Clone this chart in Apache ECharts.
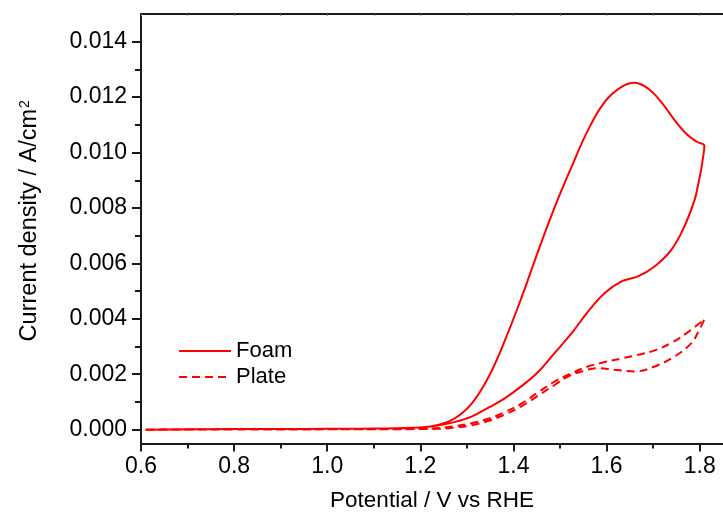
<!DOCTYPE html>
<html>
<head>
<meta charset="utf-8">
<script src="https://cdn.jsdelivr.net/npm/echarts@6/dist/echarts.min.js"></script>
<style>
  html, body { margin: 0; padding: 0; background: #fff; }
  #chart { width: 723px; height: 518px; }
</style>
</head>
<body>
<div id="chart"></div>
<script>
// Foam CV loop (V vs RHE, A/cm2)
const foamPotential = [
  0.61, 0.7, 0.8, 0.9, 1.0, 1.1, 1.2, 1.24, 1.275, 1.311, 1.347, 1.382, 1.418, 1.454, 1.489,
  1.525, 1.56, 1.596, 1.632, 1.66, 1.689, 1.717, 1.746, 1.774, 1.795, 1.81,
  1.806, 1.803, 1.796, 1.789, 1.767, 1.739, 1.703, 1.667, 1.632, 1.596, 1.56, 1.525, 1.489,
  1.454, 1.418, 1.382, 1.347, 1.311, 1.275, 1.24, 1.2, 1.1, 1.0, 0.8, 0.61
];
const foamCurrent = [
  0.0, 0.00001, 0.00002, 0.00002, 0.00003, 0.00004, 0.00008, 0.00018, 0.00042, 0.00096,
  0.00192, 0.00324, 0.0048, 0.00649, 0.00805, 0.00949, 0.01081, 0.01183, 0.01237, 0.01252,
  0.01231, 0.01183, 0.01117, 0.01063, 0.01038, 0.01024,
  0.0097, 0.00937, 0.0088, 0.00829, 0.00733, 0.00649, 0.00589, 0.00553, 0.00535, 0.00493,
  0.00426, 0.00348, 0.00278, 0.0021, 0.00158, 0.00114, 0.0008, 0.00048, 0.00028, 0.00016,
  0.00008, 0.00004, 0.00003, 0.00002, 0.0
];

// Plate CV loop
const platePotential = [
  0.61, 0.8, 1.0, 1.2, 1.24, 1.275, 1.311, 1.347, 1.382, 1.418, 1.454, 1.489, 1.525, 1.56,
  1.596, 1.632, 1.667, 1.703, 1.74, 1.774, 1.81,
  1.799, 1.782, 1.746, 1.703, 1.66, 1.617, 1.582, 1.546, 1.518, 1.489, 1.454, 1.418, 1.382,
  1.347, 1.311, 1.275, 1.24, 1.2, 1.0, 0.61
];
const plateCurrent = [
  0.0, 0.00001, 0.00001, 0.00002, 0.00006, 0.00013, 0.00024, 0.0004, 0.00064, 0.00095,
  0.00136, 0.00174, 0.00204, 0.00228, 0.00244, 0.00257, 0.0027, 0.00286, 0.00314, 0.00351,
  0.00398,
  0.0036, 0.00312, 0.00264, 0.00228, 0.0021, 0.00216, 0.00222, 0.0021, 0.00192, 0.00162,
  0.00124, 0.00085, 0.00055, 0.00032, 0.00016, 0.00008, 0.00003, 0.00002, 0.00001, 0.0
];

const xMajor = [0.6, 0.8, 1.0, 1.2, 1.4, 1.6, 1.8];
const xMinor = [0.7, 0.9, 1.1, 1.3, 1.5, 1.7];
const yMajor = [0, 0.002, 0.004, 0.006, 0.008, 0.010, 0.012, 0.014];
const yMinor = [0.001, 0.003, 0.005, 0.007, 0.009, 0.011, 0.013];

const zip = (xs, ys) => xs.map((x, i) => [x, ys[i]]);

const FONT = '"Liberation Sans", Arial, sans-serif';
const AXIS_COLOR = '#1a1a1a';
const RED = '#ff0000';

const chart = echarts.init(document.getElementById('chart'));

const xBase = { type: 'value', min: 0.6, max: 1.85, splitLine: { show: false } };
const yBase = { type: 'value', min: -0.0005, max: 0.015, splitLine: { show: false } };

chart.setOption({
  animation: false,
  backgroundColor: '#fff',
  grid: { left: 141, top: 14, width: 584, height: 429.5 },
  legend: {
    orient: 'vertical',
    left: 173,
    top: 335,
    itemWidth: 52,
    itemHeight: 14,
    itemGap: 4,
    itemStyle: { opacity: 0 },
    textStyle: { fontFamily: FONT, fontSize: 22, color: '#000' },
    data: ['Foam', 'Plate']
  },
  xAxis: [
    {
      ...xBase,
      position: 'bottom',
      name: 'Potential / V vs RHE',
      nameLocation: 'middle',
      nameGap: 46,
      nameTextStyle: { fontFamily: FONT, fontSize: 22.5, color: '#000' },
      axisLine: { onZero: false, lineStyle: { color: AXIS_COLOR, width: 2 } },
      axisTick: { customValues: xMajor, inside: false, length: 8, lineStyle: { color: AXIS_COLOR, width: 2 } },
      axisLabel: {
        customValues: xMajor,
        margin: 12,
        fontFamily: FONT,
        fontSize: 23,
        color: '#000',
        formatter: (v) => v.toFixed(1)
      }
    },
    {
      ...xBase,
      position: 'bottom',
      axisLine: { show: false, onZero: false },
      axisTick: { customValues: xMinor, inside: false, length: 5, lineStyle: { color: AXIS_COLOR, width: 2 } },
      axisLabel: { show: false }
    },
    {
      ...xBase,
      position: 'top',
      axisLine: { onZero: false, lineStyle: { color: AXIS_COLOR, width: 2 } },
      axisTick: { customValues: xMajor.concat(xMinor), inside: true, length: 2, lineStyle: { color: '#777', width: 1 } },
      axisLabel: { show: false }
    }
  ],
  yAxis: [
    {
      ...yBase,
      position: 'left',
      name: 'Current density / A/cm{sup|2}',
      nameLocation: 'middle',
      nameGap: 99,
      nameRotate: 90,
      nameTextStyle: {
        fontFamily: FONT,
        fontSize: 23.5,
        color: '#000',
        padding: [0, 0, 0, 16],
        rich: {
          sup: { fontFamily: FONT, fontSize: 14, color: '#000', verticalAlign: 'top', lineHeight: 14, padding: [0, 0, 12, 1] }
        }
      },
      axisLine: { onZero: false, lineStyle: { color: AXIS_COLOR, width: 2 } },
      axisTick: { customValues: yMajor, inside: false, length: 9, lineStyle: { color: AXIS_COLOR, width: 2 } },
      axisLabel: {
        customValues: yMajor,
        margin: 14,
        fontFamily: FONT,
        fontSize: 23,
        color: '#000',
        formatter: (v) => v.toFixed(3)
      }
    },
    {
      ...yBase,
      position: 'left',
      axisLine: { show: false, onZero: false },
      axisTick: { customValues: yMinor, inside: false, length: 6, lineStyle: { color: AXIS_COLOR, width: 2 } },
      axisLabel: { show: false }
    }
  ],
  series: [
    {
      name: 'Foam',
      type: 'line',
      xAxisIndex: 0,
      yAxisIndex: 0,
      data: zip(foamPotential, foamCurrent),
      smooth: 0.4,
      symbol: 'none',
      lineStyle: { color: RED, width: 2 },
      itemStyle: { color: RED }
    },
    {
      name: 'Plate',
      type: 'line',
      xAxisIndex: 0,
      yAxisIndex: 0,
      data: zip(platePotential, plateCurrent),
      smooth: 0.4,
      symbol: 'none',
      lineStyle: { color: RED, width: 2, type: [8, 5] },
      itemStyle: { color: RED }
    }
  ]
});
</script>
</body>
</html>
